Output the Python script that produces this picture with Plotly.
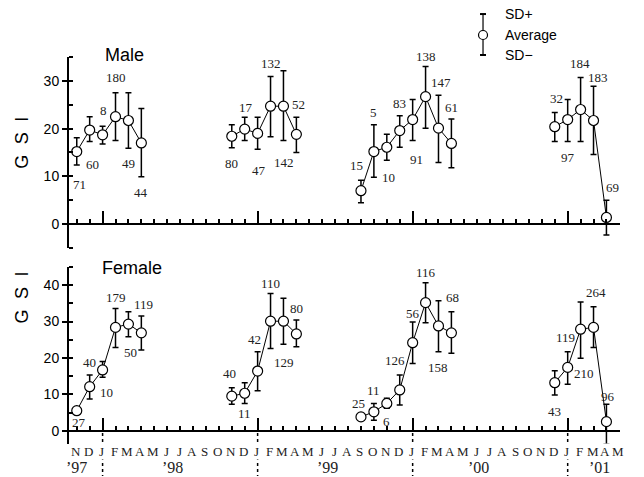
import plotly.graph_objects as go

# ---------------- data ----------------
male_month = ["1997-11", "1997-12", "1998-01", "1998-02", "1998-03", "1998-04",
              "1998-11", "1998-12", "1999-01", "1999-02", "1999-03", "1999-04",
              "1999-09", "1999-10", "1999-11", "1999-12", "2000-01", "2000-02", "2000-03", "2000-04",
              "2000-12", "2001-01", "2001-02", "2001-03", "2001-04"]
male_season = [1]*6 + [2]*6 + [3]*8 + [4]*5
male_mean = [15.2, 19.7, 18.7, 22.5, 21.7, 17.0,
             18.4, 19.9, 19.0, 24.7, 24.7, 18.8,
             7.0, 15.2, 16.1, 19.6, 21.9, 26.7, 20.1, 16.9,
             20.4, 21.9, 24.0, 21.7, 1.4]
male_sd_hi = [18.1, 22.5, 20.5, 27.5, 27.5, 24.2,
              20.8, 22.4, 22.4, 30.9, 32.1, 22.4,
              9.2, 20.8, 18.8, 22.7, 26.1, 33.0, 27.0, 22.0,
              23.4, 26.1, 30.7, 28.9, 5.0]
male_sd_lo = [12.4, 17.3, 16.8, 17.5, 15.9, 9.9,
              16.0, 17.5, 15.7, 18.3, 17.5, 15.0,
              4.5, 9.8, 13.4, 16.1, 17.5, 20.1, 12.9, 11.8,
              17.3, 17.3, 17.3, 14.6, -2.3]
male_n = [71, 60, 8, 180, 49, 44,
          80, 17, 47, 132, 142, 52,
          15, 5, 10, 83, 91, 138, 147, 61,
          32, 97, 184, 183, 69]

female_month = ["1997-11", "1997-12", "1998-01", "1998-02", "1998-03", "1998-04",
                "1998-11", "1998-12", "1999-01", "1999-02", "1999-03", "1999-04",
                "1999-09", "1999-10", "1999-11", "1999-12", "2000-01", "2000-02", "2000-03", "2000-04",
                "2000-12", "2001-01", "2001-02", "2001-03", "2001-04"]
female_season = [1]*6 + [2]*6 + [3]*8 + [4]*5
female_mean = [5.5, 12.1, 16.7, 28.4, 29.3, 26.9,
               9.5, 10.3, 16.4, 30.1, 30.1, 26.6,
               3.8, 5.2, 7.5, 11.2, 24.2, 35.2, 28.8, 26.9,
               13.2, 17.4, 27.9, 28.4, 2.5]
female_sd_hi = [6.3, 15.3, 19.0, 33.6, 32.7, 31.5,
                11.8, 13.2, 21.7, 37.7, 36.4, 30.4,
                4.5, 7.5, 8.9, 15.3, 29.9, 40.7, 35.7, 32.7,
                16.5, 21.7, 35.4, 34.1, 7.3]
female_sd_lo = [4.7, 8.7, 14.7, 22.9, 25.8, 22.2,
                7.3, 7.5, 11.0, 22.6, 23.8, 23.1,
                3.1, 2.9, 6.2, 7.1, 18.5, 29.7, 21.7, 21.3,
                9.8, 12.8, 19.9, 22.9, -3.7]
female_n = [27, 40, 10, 179, 50, 119,
            40, 11, 42, 110, 129, 80,
            25, 11, 6, 126, 56, 116, 158, 68,
            43, 119, 210, 264, 96]

month_letters = ["N", "D",
                 "J", "F", "M", "A", "M", "J", "J", "A", "S", "O", "N", "D",
                 "J", "F", "M", "A", "M", "J", "J", "A", "S", "O", "N", "D",
                 "J", "F", "M", "A", "M", "J", "J", "A", "S", "O", "N", "D",
                 "J", "F", "M", "A", "M"]
year_labels = ["\u201997", "\u201998", "\u201999", "\u201900", "\u201901"]

# ---------------- label placement (pixels, layout only) ----------------
male_lbl_dx = [3, 3, 1, 0, 0, 0,
               0, 1, 1, 0, 1, 2,
               -4, 0, 2, 0, 4, 0, 3, 0,
               2, 0, -1, 4, 6]
male_lbl_dy = [-33, -34, 24, 39, -43, -50,
               -27, 22, -37, 43, -56, 30,
               25, 39, -30, 27, -40, 40, 46, 36,
               28, -38, 46, 43, 30]
female_lbl_dx = [2, 0, 4, 0, 2, 2,
                 -2, 0, -3, 0, 1, 0,
                 -2, 0, 0, -5, 0, 0, 0, 1,
                 0, -2, 3, 2, 2]
female_lbl_dy = [-12, 24, -23, 30, -28, 28,
                 23, -20, 32, 38, -41, 25,
                 13, 21, -18, 29, 29, 30, -42, 35,
                 -29, 30, -44, 35, 25]
year_pos = [0, 7.4, 19.4, 31.1, 40.5]


def midx(s):
    y, m = map(int, s.split("-"))
    return (y - 1997) * 12 + (m - 11)


X_RANGE = [-0.6, 42.05]
M_RANGE = [-5, 35]
F_RANGE = [-3.65, 45]
M_DOM = [0.5065, 1.0]
F_DOM = [0.0, 0.4574]

SERIF = "Liberation Serif, Times New Roman, serif"
SANS = "Liberation Sans, Arial, sans-serif"

fig = go.Figure()
annotations = []


def add_panel(months, season, mean, hi, lo, n, dxs, dys, xa, ya):
    xs = [midx(m) for m in months]
    for s in sorted(set(season)):
        idx = [i for i, v in enumerate(season) if v == s]
        fig.add_trace(go.Scatter(
            x=[xs[i] for i in idx], y=[mean[i] for i in idx],
            xaxis=xa, yaxis=ya, mode="lines+markers",
            line=dict(color="black", width=1),
            marker=dict(symbol="circle", size=10, color="white",
                        line=dict(color="black", width=1.2)),
            error_y=dict(type="data", symmetric=False,
                         array=[hi[i] - mean[i] for i in idx],
                         arrayminus=[mean[i] - lo[i] for i in idx],
                         color="black", thickness=1.5, width=3),
            showlegend=False, hoverinfo="skip"))
    for i in range(len(xs)):
        annotations.append(dict(
            x=xs[i], y=mean[i], xref=xa, yref=ya, text=str(n[i]),
            showarrow=False, xshift=dxs[i], yshift=dys[i],
            font=dict(family=SERIF, size=13, color="#222")))


add_panel(male_month, male_season, male_mean, male_sd_hi, male_sd_lo, male_n,
          male_lbl_dx, male_lbl_dy, "x", "y")
add_panel(female_month, female_season, female_mean, female_sd_hi, female_sd_lo, female_n,
          female_lbl_dx, female_lbl_dy, "x2", "y2")


def zero_pos(rng, dom):
    return dom[0] + (0 - rng[0]) / (rng[1] - rng[0]) * (dom[1] - dom[0])


m_zero = zero_pos(M_RANGE, M_DOM)
f_zero = zero_pos(F_RANGE, F_DOM)

xcommon = dict(range=X_RANGE, domain=[0, 1], anchor="free", showline=True,
               linewidth=2, linecolor="black", ticks="inside", tick0=2, dtick=12,
               ticklen=12, tickwidth=1.5, tickcolor="black", showticklabels=False,
               showgrid=False, zeroline=False,
               minor=dict(ticks="inside", tick0=0, dtick=1, ticklen=4,
                          tickwidth=1.5, tickcolor="black"))
ycommon = dict(showline=True, linewidth=2, linecolor="black", ticks="outside",
               tick0=0, dtick=10, ticklen=5, tickwidth=1.5, tickcolor="black",
               tickfont=dict(family=SANS, size=14, color="black"),
               showgrid=False, zeroline=False,
               minor=dict(ticks="inside", tick0=0, dtick=5, ticklen=4,
                          tickwidth=1.5, tickcolor="black"))

fig.update_layout(
    width=644, height=477,
    margin=dict(l=69, r=24, t=57, b=33),
    paper_bgcolor="white", plot_bgcolor="white",
    xaxis=dict(position=m_zero, **xcommon),
    xaxis2=dict(position=f_zero, **xcommon),
    yaxis=dict(domain=M_DOM, range=M_RANGE, anchor="x", **ycommon),
    yaxis2=dict(domain=F_DOM, range=F_RANGE, anchor="x2", **ycommon),
)

shapes = []
# dotted year separators below the female axis
for j in range(2, 43, 12):
    shapes.append(dict(type="line", xref="x2", yref="paper", x0=j, x1=j,
                       y0=f_zero - 0.006, y1=-0.083,
                       line=dict(color="black", width=1.5, dash="dot")))

# month letters
for i, t in enumerate(month_letters):
    annotations.append(dict(x=i, y=-0.0199, xref="x2", yref="paper", text=t,
                            showarrow=False, xshift=-1, yanchor="middle",
                            bgcolor="white", borderpad=0,
                            font=dict(family=SERIF, size=13, color="#222")))
# years
for p, t in zip(year_pos, year_labels):
    annotations.append(dict(x=p, y=-0.0845, xref="x2", yref="paper", text=t,
                            showarrow=False, yanchor="bottom", borderpad=0,
                            font=dict(family=SERIF, size=16, color="#222")))

# panel titles and axis titles
GSI = "G\u2002\u200aS\u2002\u200aI"
annotations += [
    dict(x=0.0617, y=1.005, xref="paper", yref="paper", text="Male", showarrow=False,
         xanchor="left", yanchor="middle", font=dict(family=SANS, size=18, color="black")),
    dict(x=0.0563, y=0.4548, xref="paper", yref="paper", text="Female", showarrow=False,
         xanchor="left", yanchor="middle", font=dict(family=SANS, size=18, color="black")),
    dict(x=-0.0858, y=0.778, xref="paper", yref="paper", text=GSI, showarrow=False,
         textangle=-90, xanchor="center", yanchor="middle",
         font=dict(family=SANS, size=18, color="black")),
    dict(x=-0.0858, y=0.378, xref="paper", yref="paper", text=GSI, showarrow=False,
         textangle=-90, xanchor="center", yanchor="middle",
         font=dict(family=SANS, size=18, color="black")),
]

# legend key
LX, LTOP, LMID, LBOT = 0.7514, 1.111, 1.0568, 1.0052
shapes += [
    dict(type="line", xref="paper", yref="paper", x0=LX, x1=LX, y0=LTOP, y1=LBOT,
         line=dict(color="black", width=1.2)),
    dict(type="line", xref="paper", yref="paper", xsizemode="pixel", xanchor=LX,
         x0=-3, x1=3, y0=LTOP, y1=LTOP, line=dict(color="black", width=2)),
    dict(type="line", xref="paper", yref="paper", xsizemode="pixel", xanchor=LX,
         x0=-3, x1=3, y0=LBOT, y1=LBOT, line=dict(color="black", width=2)),
    dict(type="circle", xref="paper", yref="paper", xsizemode="pixel", ysizemode="pixel",
         xanchor=LX, yanchor=LMID, x0=-4.5, x1=4.5, y0=-4.5, y1=4.5,
         fillcolor="white", line=dict(color="black", width=1.2)),
]
for t, yy in [("SD+", LTOP), ("Average", LMID), ("SD\u2212", LBOT)]:
    annotations.append(dict(x=0.787, y=yy, xref="paper", yref="paper", text=t,
                            showarrow=False, xanchor="left", yanchor="middle",
                            font=dict(family=SANS, size=14, color="black")))

fig.update_layout(shapes=shapes, annotations=annotations)
fig.write_html("out.html")
